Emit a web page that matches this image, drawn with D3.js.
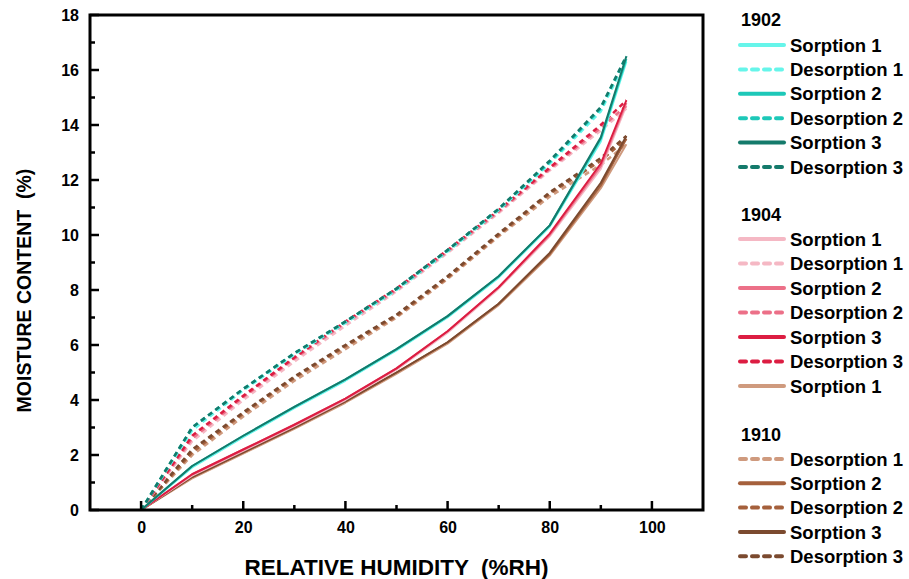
<!DOCTYPE html>
<html>
<head>
<meta charset="utf-8">
<script src="https://cdn.jsdelivr.net/npm/d3@7"></script>
<style>
  body { margin: 0; background: #fff; }
  text { font-family: Arial, "Liberation Sans", sans-serif; font-weight: bold; fill: #000; }
</style>
</head>
<body>
<div id="chart"></div>
<script>
// Relative humidity steps (%RH)
const humidity = [0, 10, 20, 30, 40, 50, 60, 70, 80, 90, 95];

// Moisture content (%)
const s1902_1 = [0, 1.55, 2.65, 3.7, 4.7, 5.8, 7.0, 8.45, 10.3, 13.4, 16.3];
const d1902_1 = [0, 2.9, 4.35, 5.65, 6.8, 8.0, 9.4, 10.9, 12.6, 14.5, 16.4];
const s1902_2 = [0, 1.6, 2.7, 3.75, 4.75, 5.85, 7.05, 8.5, 10.35, 13.5, 16.4];
const d1902_2 = [0, 3.0, 4.4, 5.7, 6.85, 8.05, 9.45, 10.95, 12.65, 14.6, 16.5];
const s1902_3 = [0, 1.6, 2.7, 3.75, 4.75, 5.85, 7.05, 8.5, 10.35, 13.55, 16.5];
const d1902_3 = [0, 3.0, 4.4, 5.7, 6.85, 8.05, 9.45, 10.95, 12.7, 14.65, 16.5];

const s1904_1 = [0, 1.25, 2.15, 3.05, 4.0, 5.1, 6.45, 8.05, 9.95, 12.4, 14.7];
const d1904_1 = [0, 2.5, 4.0, 5.4, 6.7, 7.95, 9.35, 10.8, 12.35, 13.8, 14.6];
const s1904_2 = [0, 1.3, 2.2, 3.1, 4.05, 5.15, 6.5, 8.1, 10.0, 12.5, 14.8];
const d1904_2 = [0, 2.6, 4.1, 5.5, 6.8, 8.0, 9.4, 10.85, 12.4, 13.9, 14.7];
const s1904_3 = [0, 1.3, 2.2, 3.1, 4.05, 5.15, 6.5, 8.1, 10.05, 12.6, 14.9];
const d1904_3 = [0, 2.7, 4.15, 5.55, 6.85, 8.05, 9.45, 10.9, 12.45, 14.0, 14.9];

const s1910_1 = [0, 1.15, 2.05, 2.95, 3.9, 4.95, 6.05, 7.45, 9.25, 11.7, 13.3];
const d1910_1 = [0, 2.0, 3.4, 4.7, 5.85, 7.0, 8.4, 9.95, 11.4, 12.55, 13.3];
const s1910_2 = [0, 1.2, 2.1, 3.0, 3.95, 5.0, 6.1, 7.5, 9.3, 11.8, 13.5];
const d1910_2 = [0, 2.1, 3.5, 4.8, 5.95, 7.05, 8.45, 10.0, 11.5, 12.7, 13.5];
const s1910_3 = [0, 1.2, 2.1, 3.0, 3.95, 5.0, 6.1, 7.5, 9.35, 11.9, 13.6];
const d1910_3 = [0, 2.2, 3.55, 4.85, 6.0, 7.1, 8.5, 10.05, 11.55, 12.8, 13.6];

const yTicks = [0, 2, 4, 6, 8, 10, 12, 14, 16, 18];
const xTicks = [0, 20, 40, 60, 80, 100];

// name, values, color, dashed
const series1910 = [
  ["Sorption 1", s1910_1, "#cf9a7e", false],
  ["Desorption 1", d1910_1, "#cf9a7e", true],
  ["Sorption 2", s1910_2, "#a5603c", false],
  ["Desorption 2", d1910_2, "#a5603c", true],
  ["Sorption 3", s1910_3, "#7b4a2f", false],
  ["Desorption 3", d1910_3, "#7b4a2f", true],
];
const series1904 = [
  ["Sorption 1", s1904_1, "#f5b8c4", false],
  ["Desorption 1", d1904_1, "#f5b8c4", true],
  ["Sorption 2", s1904_2, "#ec7088", false],
  ["Desorption 2", d1904_2, "#ec7088", true],
  ["Sorption 3", s1904_3, "#dc1d42", false],
  ["Desorption 3", d1904_3, "#dc1d42", true],
];
const series1902 = [
  ["Sorption 1", s1902_1, "#66f5ea", false],
  ["Desorption 1", d1902_1, "#66f5ea", true],
  ["Sorption 2", s1902_2, "#1dc8b8", false],
  ["Desorption 2", d1902_2, "#1dc8b8", true],
  ["Sorption 3", s1902_3, "#147a6b", false],
  ["Desorption 3", d1902_3, "#147a6b", true],
];

const W = 909, H = 579;
const margin = { top: 15, right: 206, bottom: 69, left: 90 };
const width = W - margin.left - margin.right;
const height = H - margin.top - margin.bottom;

const svg = d3.select("#chart").append("svg")
  .attr("width", W).attr("height", H);
const g = svg.append("g")
  .attr("transform", `translate(${margin.left},${margin.top})`);

const x = d3.scaleLinear().domain([-10, 110]).range([0, width]);
const y = d3.scaleLinear().domain([0, 18]).range([height, 0]);

// lines, 1910 first so 1902 sits on top
const line = d3.line().x((d, i) => x(humidity[i])).y(d => y(d));
[series1910, series1904, series1902].forEach(group => {
  group.forEach(([name, vals, color, dashed]) => {
    g.append("path")
      .datum(vals)
      .attr("d", line)
      .attr("fill", "none")
      .attr("stroke", color)
      .attr("stroke-width", dashed ? 2.6 : 2)
      .attr("stroke-dasharray", dashed ? "5,4" : null)
      .attr("stroke-linejoin", "round");
  });
});

// frame
g.append("rect")
  .attr("width", width).attr("height", height)
  .attr("fill", "none").attr("stroke", "#000").attr("stroke-width", 3);

// y axis: inward ticks
const yAxis = g.append("g")
  .call(d3.axisLeft(y).tickValues(yTicks).tickSize(0).tickPadding(11));
yAxis.select(".domain").remove();
yAxis.selectAll("text").attr("font-size", 16).style("font-weight", "bold")
  .attr("font-family", "Arial, 'Liberation Sans', sans-serif");
g.append("g").selectAll("line")
  .data(d3.range(0, 19))
  .join("line")
  .attr("x1", 0).attr("x2", d => d % 2 === 0 ? 9 : 5)
  .attr("y1", d => y(d)).attr("y2", d => y(d))
  .attr("stroke", "#000").attr("stroke-width", 2.5);

// x axis: inward ticks
const xAxis = g.append("g")
  .attr("transform", `translate(0,${height})`)
  .call(d3.axisBottom(x).tickValues(xTicks).tickSize(0).tickPadding(12));
xAxis.select(".domain").remove();
xAxis.selectAll("text").attr("font-size", 16).style("font-weight", "bold")
  .attr("font-family", "Arial, 'Liberation Sans', sans-serif");
g.append("g").selectAll("line")
  .data(d3.range(0, 101, 10))
  .join("line")
  .attr("x1", d => x(d)).attr("x2", d => x(d))
  .attr("y1", height).attr("y2", d => d % 20 === 0 ? height - 9 : height - 5)
  .attr("stroke", "#000").attr("stroke-width", 2.5);

// axis titles
svg.append("text")
  .attr("x", margin.left + width / 2).attr("y", 575)
  .attr("text-anchor", "middle").attr("font-size", 22.5)
  .style("white-space", "pre")
  .text("RELATIVE HUMIDITY  (%RH)");
svg.append("text")
  .attr("transform", `translate(31,${margin.top + height / 2 + 28}) rotate(-90)`)
  .attr("text-anchor", "middle").attr("font-size", 19.5)
  .style("white-space", "pre")
  .text("MOISTURE CONTENT  (%)");

// legend (same grouping as the picture)
const legendRows = [
  { title: "1902", y: 20 },
  ...series1902.map((s, i) => ({ s, y: 45 + i * 24.4 })),
  { title: "1904", y: 215 },
  ...series1904.map((s, i) => ({ s, y: 239 + i * 24.5 })),
  { s: series1910[0], y: 386 },
  { title: "1910", y: 435 },
  ...series1910.slice(1).map((s, i) => ({ s, y: 459 + i * 24.3 })),
];
const legend = svg.append("g");
legendRows.forEach(r => {
  if (r.title) {
    legend.append("text")
      .attr("x", 741).attr("y", r.y).attr("dy", "0.35em")
      .attr("font-size", 18).text(r.title);
  } else {
    const [name, , color, dashed] = r.s;
    legend.append("line")
      .attr("x1", 740).attr("x2", 784)
      .attr("y1", r.y).attr("y2", r.y)
      .attr("stroke", color).attr("stroke-width", 4)
      .attr("stroke-linecap", "round")
      .attr("stroke-dasharray", dashed ? "6,6" : null);
    legend.append("text")
      .attr("x", 790).attr("y", r.y).attr("dy", "0.36em")
      .attr("font-size", 18.5).text(name);
  }
});
</script>
</body>
</html>
